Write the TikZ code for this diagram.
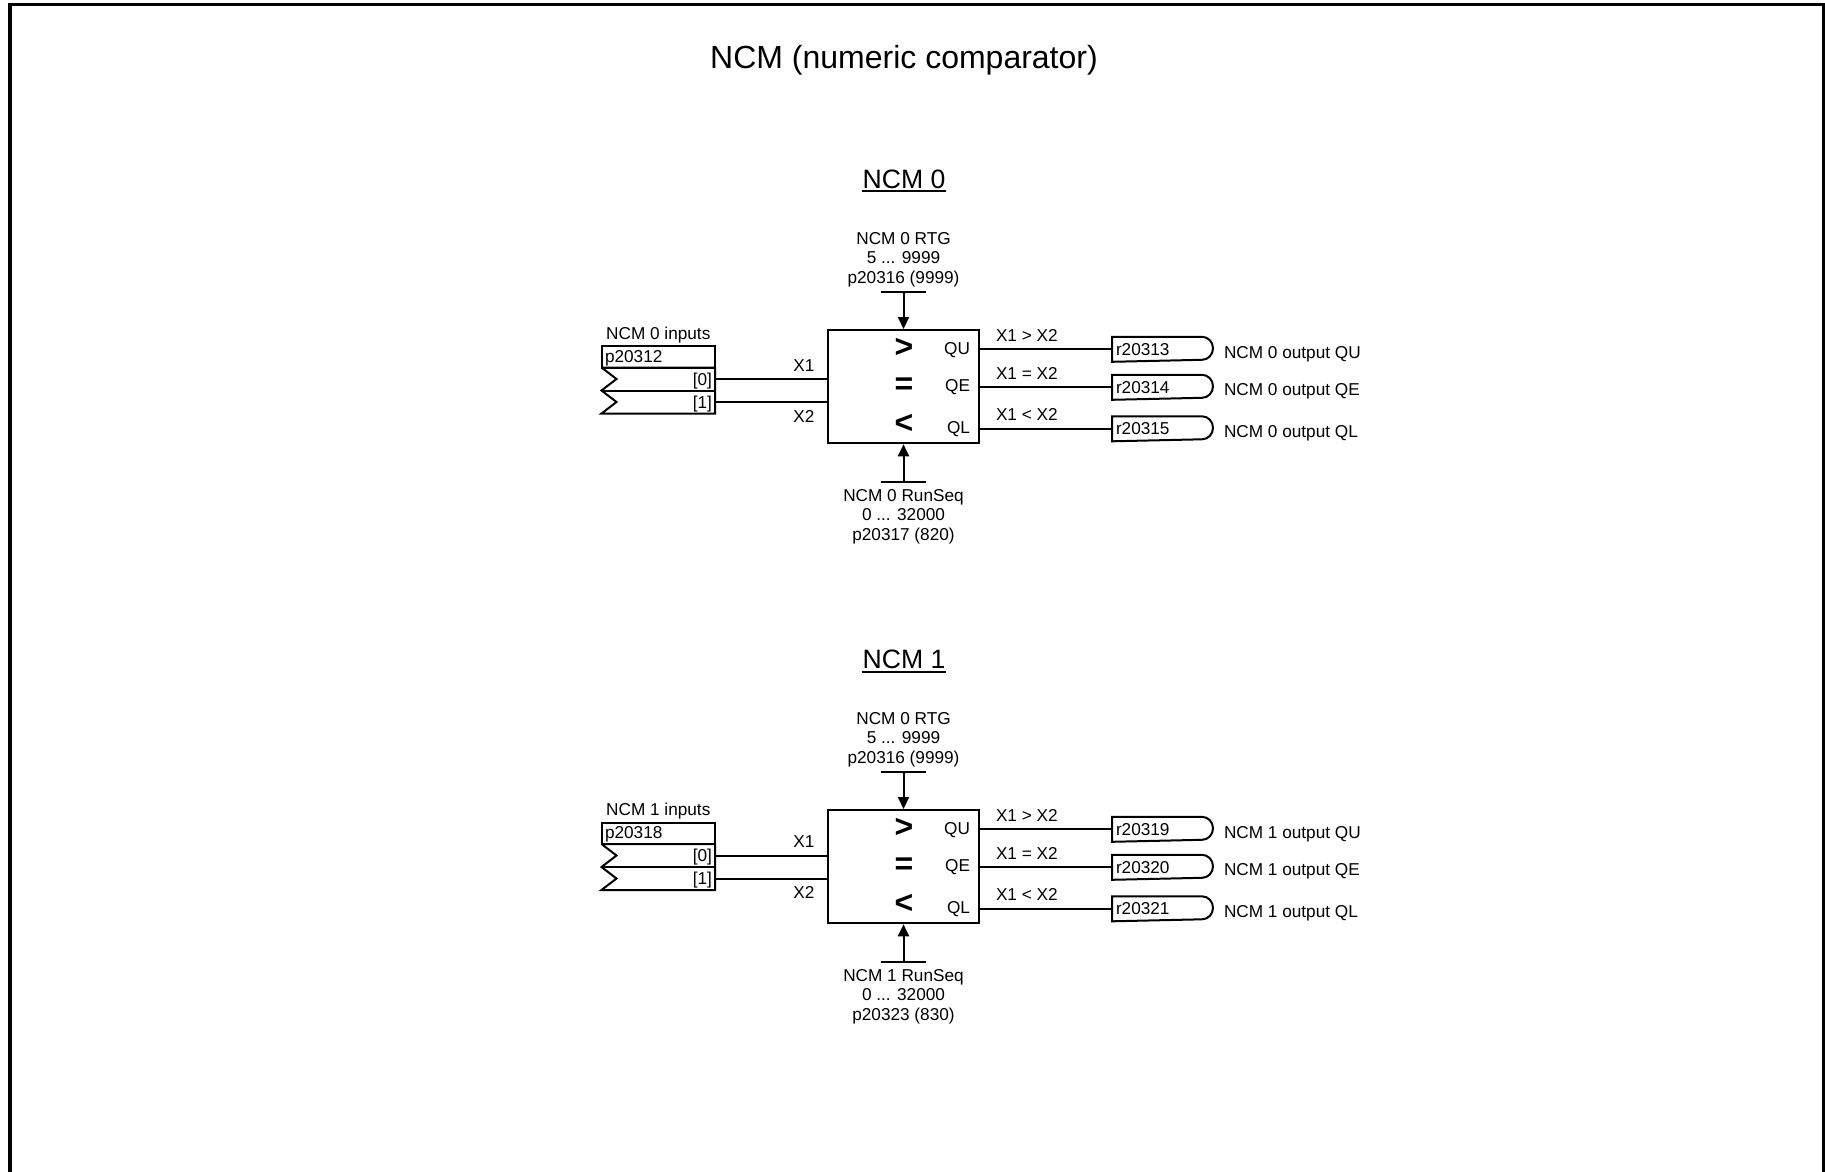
\documentclass[tikz,border=0pt]{standalone}
\usepackage{fontspec}
\setmainfont{Liberation Sans}
\usetikzlibrary{arrows.meta, calc}

\begin{document}
\begin{tikzpicture}[x=0.5pt, y=-0.5pt, line width=1pt,
  >={Triangle[length=6pt, width=5.5pt]},
  txt/.style={inner sep=0pt, font=\fontsize{8.6}{9.75}\selectfont},
  stack/.style={txt, align=center},
  cmpbox/.style={draw, rectangle, minimum width=75.5pt, minimum height=56.65pt, inner sep=0pt},
  sym/.style={inner sep=0pt, font=\fontsize{16}{16}\selectfont\bfseries},
  rbox/.style={txt, anchor=west, text width=41pt, minimum height=11.5pt, inner xsep=1.5pt, align=left},
  heading/.style={inner sep=0pt, anchor=base, font=\fontsize{13.3}{15}\selectfont}]
\useasboundingbox (0,0) rectangle (1825,1172);
\draw[line width=1.6pt] (10,1185) -- (10,4.7) -- (1823.3,4.7) -- (1823.3,1185);
\node[inner sep=0pt, anchor=base, font=\fontsize{16}{18}\selectfont] (title) at (904,68.3) {NCM (numeric comparator)};

\node[heading] (head0) at (904,188.3) {NCM 0};
\draw ([yshift=-1.4pt]head0.base west) -- ([yshift=-1.4pt]head0.base east);
\node[cmpbox] (cmp0) at (903.5,386.65) {};
\node[sym] (gt0) at (904,347.7) {>};
\node[sym] (eq0) at (904,385.7) {=};
\node[sym] (lt0) at (904,424.3) {<};
\node[txt, anchor=base east] (qu0) at (971,354.4) {QU};
\node[txt, anchor=base east] (qe0) at (971,391.8) {QE};
\node[txt, anchor=base east] (ql0) at (971,433.8) {QL};
\node[stack] (rtgtxt0) at (903.5,259.6) {NCM 0 RTG\\5 ... 9999\\p20316 (9999)};
\coordinate (rtg0) at (903.5,292.3);
\draw ([xshift=-11.4pt]rtg0) -- ([xshift=11.4pt]rtg0);
\draw[->] (rtg0) -- (cmp0.north);
\node[stack] (seqtxt0) at (903.5,516.3) {NCM 0 RunSeq\\0 ... 32000\\p20317 (820)};
\coordinate (seq0) at (903.5,481.7);
\draw ([xshift=-11.4pt]seq0) -- ([xshift=11.4pt]seq0);
\draw[->] (seq0) -- (cmp0.south);
\node[txt, anchor=base] (inlbl0) at (658.3,339.4) {NCM 0 inputs};
\draw (601.5,346) rectangle (715,367.5);
\draw (601.5,367.5) -- (715,367.5) -- (715,413.5) -- (601.5,413.5) -- (616.5,402) -- (601.5,390.5) -- (616.5,379) -- (601.5,367.5);
\draw (601.5,390.5) -- (715,390.5);
\node[txt, anchor=base west] (par0) at (604,362) {p20312};
\node[txt, anchor=base east] (idx0a) at (713,385) {[0]};
\node[txt, anchor=base east] (idx0b) at (713,408) {[1]};
\coordinate (in0a) at (715,379);
\coordinate (in0b) at (715,402);
\draw (in0a) -- (in0a -| cmp0.west);
\draw (in0b) -- (in0b -| cmp0.west);
\node[txt, anchor=base] (xa0) at (804,371) {X1};
\node[txt, anchor=base] (xb0) at (804,422) {X2};
\node[rbox] (ra0) at (1112,349.3) {r20313};
\node[rbox] (rb0) at (1112,387.3) {r20314};
\node[rbox] (rc0) at (1112,428.8) {r20315};
\draw (ra0.north west) -- (ra0.north east) arc[start angle=90, end angle=-90, x radius=5.5pt, y radius=5.75pt] -- (ra0.south west) -- cycle;
\draw (rb0.north west) -- (rb0.north east) arc[start angle=90, end angle=-90, x radius=5.5pt, y radius=5.75pt] -- (rb0.south west) -- cycle;
\draw (rc0.north west) -- (rc0.north east) arc[start angle=90, end angle=-90, x radius=5.5pt, y radius=5.75pt] -- (rc0.south west) -- cycle;
\draw (cmp0.east |- ra0.west) -- (ra0.west);
\draw (cmp0.east |- rb0.west) -- (rb0.west);
\draw (cmp0.east |- rc0.west) -- (rc0.west);
\node[txt, anchor=base west] (cga0) at (995,341) {X1 > X2};
\node[txt, anchor=base west] (cgb0) at (995,379) {X1 = X2};
\node[txt, anchor=base west] (cgc0) at (995,420.5) {X1 < X2};
\node[txt, anchor=base west] (outa0) at (1223,358.8) {NCM 0 output QU};
\node[txt, anchor=base west] (outb0) at (1223,395.1) {NCM 0 output QE};
\node[txt, anchor=base west] (outc0) at (1223,437.8) {NCM 0 output QL};

\node[heading] (head1) at (904,668.8) {NCM 1};
\draw ([yshift=-1.4pt]head1.base west) -- ([yshift=-1.4pt]head1.base east);
\node[cmpbox] (cmp1) at (903.5,866.65) {};
\node[sym] (gt1) at (904,827.7) {>};
\node[sym] (eq1) at (904,865.7) {=};
\node[sym] (lt1) at (904,904.3) {<};
\node[txt, anchor=base east] (qu1) at (971,834.4) {QU};
\node[txt, anchor=base east] (qe1) at (971,871.8) {QE};
\node[txt, anchor=base east] (ql1) at (971,913.8) {QL};
\node[stack] (rtgtxt1) at (903.5,739.6) {NCM 0 RTG\\5 ... 9999\\p20316 (9999)};
\coordinate (rtg1) at (903.5,772.3);
\draw ([xshift=-11.4pt]rtg1) -- ([xshift=11.4pt]rtg1);
\draw[->] (rtg1) -- (cmp1.north);
\node[stack] (seqtxt1) at (903.5,996.3) {NCM 1 RunSeq\\0 ... 32000\\p20323 (830)};
\coordinate (seq1) at (903.5,961.7);
\draw ([xshift=-11.4pt]seq1) -- ([xshift=11.4pt]seq1);
\draw[->] (seq1) -- (cmp1.south);
\node[txt, anchor=base] (inlbl1) at (658.3,815.9) {NCM 1 inputs};
\draw (601.5,822.5) rectangle (715,844);
\draw (601.5,844) -- (715,844) -- (715,890) -- (601.5,890) -- (616.5,878.5) -- (601.5,867) -- (616.5,855.5) -- (601.5,844);
\draw (601.5,867) -- (715,867);
\node[txt, anchor=base west] (par1) at (604,838.5) {p20318};
\node[txt, anchor=base east] (idx1a) at (713,861.5) {[0]};
\node[txt, anchor=base east] (idx1b) at (713,884.5) {[1]};
\coordinate (in1a) at (715,855.5);
\coordinate (in1b) at (715,878.5);
\draw (in1a) -- (in1a -| cmp1.west);
\draw (in1b) -- (in1b -| cmp1.west);
\node[txt, anchor=base] (xa1) at (804,847.5) {X1};
\node[txt, anchor=base] (xb1) at (804,898.5) {X2};
\node[rbox] (ra1) at (1112,829.3) {r20319};
\node[rbox] (rb1) at (1112,867.3) {r20320};
\node[rbox] (rc1) at (1112,908.8) {r20321};
\draw (ra1.north west) -- (ra1.north east) arc[start angle=90, end angle=-90, x radius=5.5pt, y radius=5.75pt] -- (ra1.south west) -- cycle;
\draw (rb1.north west) -- (rb1.north east) arc[start angle=90, end angle=-90, x radius=5.5pt, y radius=5.75pt] -- (rb1.south west) -- cycle;
\draw (rc1.north west) -- (rc1.north east) arc[start angle=90, end angle=-90, x radius=5.5pt, y radius=5.75pt] -- (rc1.south west) -- cycle;
\draw (cmp1.east |- ra1.west) -- (ra1.west);
\draw (cmp1.east |- rb1.west) -- (rb1.west);
\draw (cmp1.east |- rc1.west) -- (rc1.west);
\node[txt, anchor=base west] (cga1) at (995,821) {X1 > X2};
\node[txt, anchor=base west] (cgb1) at (995,859) {X1 = X2};
\node[txt, anchor=base west] (cgc1) at (995,900.5) {X1 < X2};
\node[txt, anchor=base west] (outa1) at (1223,838.8) {NCM 1 output QU};
\node[txt, anchor=base west] (outb1) at (1223,875.1) {NCM 1 output QE};
\node[txt, anchor=base west] (outc1) at (1223,917.8) {NCM 1 output QL};
\end{tikzpicture}
\end{document}
